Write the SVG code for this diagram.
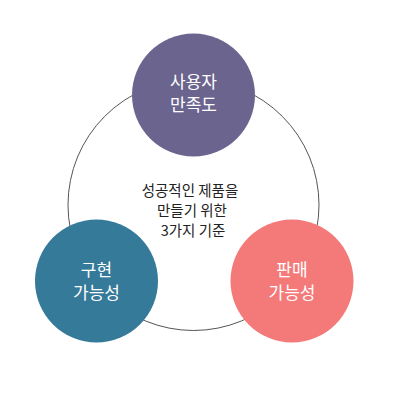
<svg xmlns="http://www.w3.org/2000/svg" width="400" height="400" viewBox="0 0 400 400">
<style>
.node-label{font-family:"Noto Sans CJK KR","Noto Sans",sans-serif;font-size:17px;fill:#ffffff;text-anchor:middle}
.center-label{font-family:"Noto Sans CJK KR","Noto Sans",sans-serif;font-size:14.5px;fill:#222222;text-anchor:middle}
</style>
<rect width="400" height="400" fill="#ffffff"/>
<g id="connectors">
<circle cx="193.5" cy="205" r="125.5" fill="none" stroke="#555555" stroke-width="1"/>
</g>
<g id="node-top">
<circle cx="193.5" cy="95" r="61.5" fill="#6b648f"/>
<text class="node-label" x="193.5" y="88">사용자</text>
<text class="node-label" x="193.5" y="111">만족도</text>
</g>
<g id="node-left">
<circle cx="96.5" cy="281" r="61.5" fill="#367a9a"/>
<text class="node-label" x="96.5" y="276">구현</text>
<text class="node-label" x="96.5" y="299">가능성</text>
</g>
<g id="node-right">
<circle cx="292" cy="281" r="61.5" fill="#f47a7a"/>
<text class="node-label" x="292" y="276">판매</text>
<text class="node-label" x="292" y="299">가능성</text>
</g>
<g id="center">
<text class="center-label" x="190" y="195.5">성공적인 제품을</text>
<text class="center-label" x="192" y="215.5">만들기 위한</text>
<text class="center-label" x="193" y="235.5">3가지 기준</text>
</g>
</svg>
